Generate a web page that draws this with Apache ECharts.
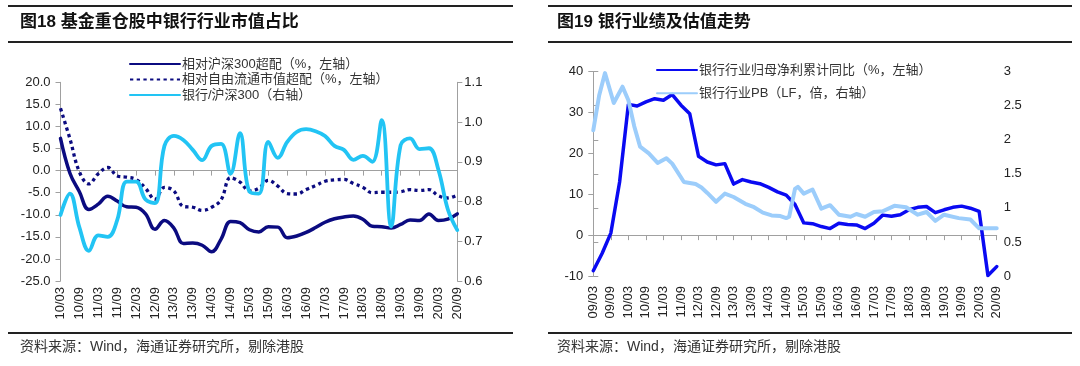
<!DOCTYPE html>
<html><head><meta charset="utf-8">
<script src="https://cdn.jsdelivr.net/npm/echarts@6/dist/echarts.min.js"></script>
<style>html,body{margin:0;padding:0;background:#fff}#c{width:1080px;height:366px}</style>
</head><body><div id="c"></div>
<script>
// ---------- Left chart data (quarterly) ----------
const leftCategories = ['10/03','10/06','10/09','10/12','11/03','11/06','11/09','11/12','12/03','12/06','12/09','12/12',
  '13/03','13/06','13/09','13/12','14/03','14/06','14/09','14/12','15/03','15/06','15/09','15/12',
  '16/03','16/06','16/09','16/12','17/03','17/06','17/09','17/12','18/03','18/06','18/09','18/12',
  '19/03','19/06','19/09','19/12','20/03','20/06','20/09'];
const overweightVsHS300 = [7.3, -0.6, -4.8, -8.8, -7.6, -5.8, -6.9, -8.2, -8.3, -9.8, -13.3, -11.3,
  -13.0, -16.5, -16.4, -16.9, -18.4, -15.5, -11.5, -11.8, -13.4, -13.9, -12.7, -12.8,
  -15.2, -14.8, -14.0, -12.9, -11.7, -10.9, -10.5, -10.3, -11.0, -12.6, -12.7, -13.0,
  -12.2, -11.2, -11.3, -9.8, -11.3, -11.0, -9.8];
const overweightVsFloat = [14.1, 7.2, -0.3, -3.0, -0.7, 0.7, -1.2, -1.5, -2.0, -4.0, -6.5, -3.8,
  -4.6, -8.1, -8.3, -9.0, -8.3, -6.6, -1.6, -2.6, -4.6, -4.0, -2.2, -3.5,
  -5.2, -5.3, -4.3, -3.4, -2.4, -2.1, -2.0, -2.9, -3.8, -5.0, -4.9, -4.9,
  -4.8, -4.3, -4.5, -4.3, -5.7, -6.2, -5.5];
const bankVsHS300 = [0.766, 0.82, 0.735, 0.676, 0.715, 0.711, 0.753, 0.85, 0.85, 0.805, 0.796, 0.94,
  0.965, 0.955, 0.93, 0.904, 0.94, 0.945, 0.87, 0.972, 0.825, 0.82, 0.95, 0.91,
  0.95, 0.975, 0.982, 0.977, 0.965, 0.94, 0.93, 0.905, 0.915, 0.90, 1.005, 0.737,
  0.942, 0.959, 0.932, 0.934, 0.88, 0.78, 0.728];

// ---------- Right chart data ----------
const rightTickLabels = ['09/03','09/09','10/03','10/09','11/03','11/09','12/03','12/09','13/03','13/09',
  '14/03','14/09','15/03','15/09','16/03','16/09','17/03','17/09','18/03','18/09','19/03','19/09','20/03','20/09'];
// quarterly, starting 09/03
const profitYoY = [-8.7, -4.5, 0.5, 13.0, 32.0, 31.6, 32.6, 33.4, 33.0, 34.4, 31.8, 29.7,
  19.3, 17.9, 17.2, 17.5, 12.5, 13.6, 13.0, 12.6, 11.7, 10.6, 9.8, 7.5,
  3.0, 2.8, 2.1, 1.6, 2.9, 2.6, 2.5, 1.6, 2.9, 4.9, 4.6, 5.0,
  6.2, 6.8, 7.0, 5.5, 6.2, 6.8, 7.1, 6.6, 5.8, -9.9, -7.7];
const pbDates = ['09/03','09/05','09/07','09/10','10/01','10/03','10/05','10/07','10/10','11/01','11/04','11/06',
  '11/10','12/02','12/04','12/06','12/09','12/12','13/03','13/07','13/10','14/01','14/04','14/07',
  '14/09','14/10','14/12','15/01','15/03','15/06','15/09','15/12','16/03','16/07','16/09','16/12',
  '17/03','17/06','17/10','18/02','18/06','18/09','18/12','19/03','19/08','19/12','20/03','20/09'];
const pbValues = [2.14, 2.65, 2.98, 2.54, 2.78, 2.58, 2.20, 1.90, 1.80, 1.66, 1.73, 1.65,
  1.38, 1.35, 1.30, 1.22, 1.09, 1.21, 1.16, 1.06, 1.01, 0.93, 0.89, 0.88,
  0.85, 0.87, 1.28, 1.31, 1.21, 1.27, 0.99, 1.04, 0.90, 0.87, 0.91, 0.87,
  0.94, 0.95, 1.03, 1.01, 0.90, 0.94, 0.81, 0.90, 0.85, 0.83, 0.70, 0.70];

function monthIndex(s) { const p = s.split('/'); return (+p[0] - 9) * 12 + (+p[1] - 3); }

const FONT = '"Liberation Sans", "Noto Sans CJK SC", sans-serif';
const AX = '#a0a0a0';
const LBL = '#222';

const chart = echarts.init(document.getElementById('c'), null, {renderer: 'canvas'});

function yAx(grid, pos, min, max, interval, fmt) {
  return {
    gridIndex: grid, type: 'value', position: pos, min: min, max: max, interval: interval,
    axisLine: {show: true, lineStyle: {color: AX, width: 1}},
    axisTick: {show: true, length: 5, lineStyle: {color: AX}},
    splitLine: {show: false},
    axisLabel: {fontSize: 13, color: LBL, fontFamily: FONT, margin: pos === 'left' ? 10 : 7, formatter: fmt}
  };
}

const rules = [
  [8, 6, 513, 6], [8, 42, 513, 42], [8, 333, 513, 333],
  [548, 6, 1072, 6], [548, 42, 1072, 42], [548, 333, 1072, 333]
].map(r => ({type: 'line', silent: true, shape: {x1: r[0], y1: r[1], x2: r[2], y2: r[3]}, style: {stroke: '#222', lineWidth: 2}}));

const texts = [
  {type: 'text', left: 20, top: 14, style: {text: '图18 基金重仓股中银行行业市值占比', fontSize: 17, fontWeight: 'bold', fontFamily: FONT, fill: '#111'}},
  {type: 'text', left: 557, top: 14, style: {text: '图19 银行业绩及估值走势', fontSize: 17, fontWeight: 'bold', fontFamily: FONT, fill: '#111'}},
  {type: 'text', left: 20, top: 340, style: {text: '资料来源：Wind，海通证券研究所，剔除港股', fontSize: 14, fontFamily: FONT, fill: '#333'}},
  {type: 'text', left: 557, top: 340, style: {text: '资料来源：Wind，海通证券研究所，剔除港股', fontSize: 14, fontFamily: FONT, fill: '#333'}}
];

const option = {
  animation: false,
  backgroundColor: '#fff',
  textStyle: {fontFamily: FONT},
  graphic: rules.concat(texts),
  legend: [
    {left: 124, top: 52, orient: 'vertical', itemWidth: 50, itemHeight: 14, itemGap: 1.5,
     data: ['相对沪深300超配（%，左轴）', '相对自由流通市值超配（%，左轴）', '银行/沪深300（右轴）'],
     textStyle: {fontSize: 13, color: '#333', fontFamily: FONT, lineHeight: 14, padding: [0, 0, 0, -3]},
     itemStyle: {opacity: 0}},
    {left: 651, top: 58, orient: 'vertical', itemWidth: 40, itemHeight: 14, itemGap: 9.3,
     data: ['银行行业归母净利累计同比（%，左轴）', '银行行业PB（LF，倍，右轴）'],
     textStyle: {fontSize: 13, color: '#333', fontFamily: FONT, lineHeight: 14, padding: [0, 0, 0, -3]},
     itemStyle: {opacity: 0}}
  ],
  grid: [
    {left: 60.5, right: 622.7, top: 82.3, bottom: 85},
    {left: 593.3, right: 83.3, top: 71.7, bottom: 90}
  ],
  xAxis: [
    {gridIndex: 0, type: 'category', data: leftCategories, boundaryGap: false, position: 'bottom',
     axisLine: {show: false, onZero: false}, axisTick: {show: false}, splitLine: {show: false},
     axisLabel: {interval: 1, rotate: 90, fontSize: 13, color: LBL, fontFamily: FONT, margin: 6}},
    {gridIndex: 0, type: 'category', data: leftCategories, boundaryGap: false, position: 'bottom',
     axisLine: {show: true, onZero: true, onZeroAxisIndex: 0, lineStyle: {color: AX, width: 1}},
     axisTick: {show: true, interval: 1, length: 5, lineStyle: {color: AX}},
     axisLabel: {show: false}, splitLine: {show: false}},
    {gridIndex: 1, type: 'value', min: 0, max: 138, interval: 6, position: 'bottom',
     axisLine: {show: false, onZero: false}, axisTick: {show: false}, splitLine: {show: false},
     axisLabel: {rotate: 90, fontSize: 13, color: LBL, fontFamily: FONT, margin: 10, showMinLabel: true, showMaxLabel: true,
       formatter: v => rightTickLabels[Math.round(v / 6)]}},
    {gridIndex: 1, type: 'value', min: 0, max: 138, interval: 6, position: 'bottom',
     axisLine: {show: true, onZero: true, onZeroAxisIndex: 2, lineStyle: {color: AX, width: 1}},
     axisTick: {show: true, length: 5, lineStyle: {color: AX}},
     axisLabel: {show: false}, splitLine: {show: false}}
  ],
  yAxis: [
    yAx(0, 'left', -25, 20, 5, v => v.toFixed(1)),
    yAx(0, 'right', 0.6, 1.1, 0.1, v => v.toFixed(1)),
    yAx(1, 'left', -10, 40, 10, v => String(v)),
    yAx(1, 'right', 0, 3, 0.5, v => String(v))
  ],
  series: [
    {name: '相对沪深300超配（%，左轴）', type: 'line', xAxisIndex: 0, yAxisIndex: 0, data: overweightVsHS300,
     smooth: 0.4, symbol: 'none', lineStyle: {color: '#0b0b80', width: 3.5, cap: 'round', join: 'round'}, itemStyle: {color: '#0b0b80'}},
    {name: '相对自由流通市值超配（%，左轴）', type: 'line', xAxisIndex: 0, yAxisIndex: 0, data: overweightVsFloat,
     smooth: 0.4, symbol: 'none', lineStyle: {color: '#0b0b80', width: 3.3, type: [3.3, 3.4]}, itemStyle: {color: '#0b0b80'}},
    {name: '银行/沪深300（右轴）', type: 'line', xAxisIndex: 0, yAxisIndex: 1, data: bankVsHS300,
     smooth: 0.4, symbol: 'none', lineStyle: {color: '#22c4f4', width: 3.8, cap: 'round', join: 'round'}, itemStyle: {color: '#22c4f4'}},
    {name: '银行行业归母净利累计同比（%，左轴）', type: 'line', xAxisIndex: 2, yAxisIndex: 2,
     data: profitYoY.map((v, i) => [i * 3, v]),
     symbol: 'none', lineStyle: {color: '#0a0af2', width: 3.5, cap: 'round', join: 'round'}, itemStyle: {color: '#0a0af2'}},
    {name: '银行行业PB（LF，倍，右轴）', type: 'line', xAxisIndex: 2, yAxisIndex: 3,
     data: pbDates.map((d, i) => [monthIndex(d), pbValues[i]]),
     symbol: 'none', lineStyle: {color: '#9ccdfb', width: 4, cap: 'round', join: 'round'}, itemStyle: {color: '#9ccdfb'}}
  ]
};
chart.setOption(option);
</script>
</body></html>
